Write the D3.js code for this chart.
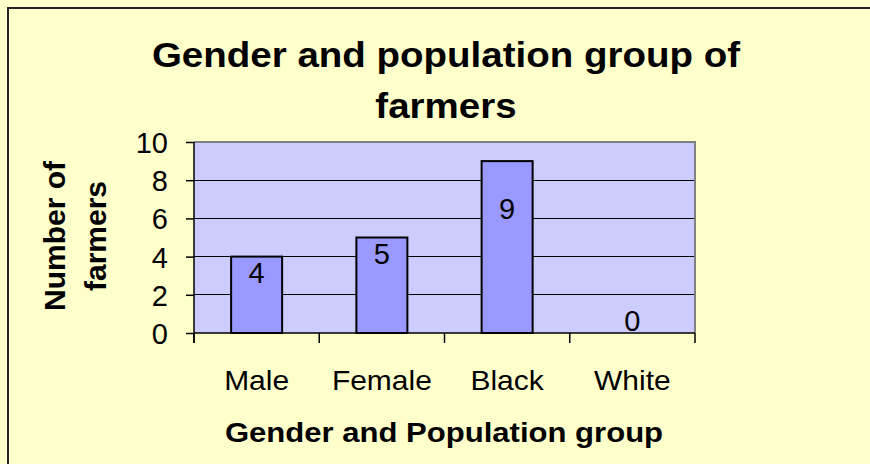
<!DOCTYPE html>
<html>
<head>
<meta charset="utf-8">
<script src="https://cdn.jsdelivr.net/npm/d3@7"></script>
<style>
  html, body { margin: 0; padding: 0; background: #FFFFCC; }
  svg { display: block; }
  text { font-family: "Liberation Sans", Arial, sans-serif; fill: #000; }
</style>
</head>
<body>
<script>
const categories = ["Male", "Female", "Black", "White"];
const values = [4, 5, 9, 0];
const yTicks = [0, 2, 4, 6, 8, 10];
const titleLines = ["Gender and population group of", "farmers"];
const yTitleLines = ["Number of", "farmers"];
const xTitle = "Gender and Population group";

const W = 870, H = 464;
const plot = { left: 194, right: 695, top: 142, bottom: 333 };
const hStretch = 1.1; // horizontal text stretch seen in the reference

const svg = d3.select("body").append("svg").attr("width", W).attr("height", H);

// helper: stretch horizontal text glyphs a little, like the reference
function stretch(sel, factor) {
  sel.each(function () {
    const w = this.getComputedTextLength();
    d3.select(this).attr("textLength", w * factor).attr("lengthAdjust", "spacingAndGlyphs");
  });
}

// background + frame
svg.append("rect").attr("x", 0).attr("y", 0).attr("width", W).attr("height", H).attr("fill", "#FFFFCC");
svg.append("rect").attr("x", 8).attr("y", 8).attr("width", W + 20).attr("height", H + 20)
  .attr("fill", "#FFFFCC").attr("stroke", "#222").attr("stroke-width", 2);

const x = d3.scaleBand().domain(categories).range([plot.left, plot.right]).paddingInner(0).paddingOuter(0);
const y = d3.scaleLinear().domain([0, 10]).range([plot.bottom, plot.top]);

// plot area
svg.append("rect").attr("x", plot.left).attr("y", plot.top)
  .attr("width", plot.right - plot.left).attr("height", plot.bottom - plot.top)
  .attr("fill", "#CCCCFF");

// gridlines
svg.append("g").selectAll("line").data(yTicks.filter(d => d > 0 && d < 10)).join("line")
  .attr("x1", plot.left).attr("x2", plot.right)
  .attr("y1", d => y(d)).attr("y2", d => y(d))
  .attr("stroke", "#000").attr("stroke-width", 1).attr("shape-rendering", "crispEdges");

// plot border top/right
svg.append("path")
  .attr("d", `M${plot.left},${plot.top}H${plot.right}V${plot.bottom}`)
  .attr("fill", "none").attr("stroke", "#808080").attr("stroke-width", 2);

// bars
const barW = 51;
svg.append("g").selectAll("rect").data(categories.map((c, i) => ({ c, v: values[i] }))).join("rect")
  .filter(d => d.v > 0)
  .attr("x", d => x(d.c) + x.bandwidth() / 2 - barW / 2)
  .attr("y", d => y(d.v))
  .attr("width", barW)
  .attr("height", d => y(0) - y(d.v))
  .attr("fill", "#9999FF").attr("stroke", "#000").attr("stroke-width", 2);

// y axis
const yAxis = d3.axisLeft(y).tickValues(yTicks).tickSize(8).tickPadding(18).tickFormat(d3.format("d"));
const gy = svg.append("g").attr("transform", `translate(${plot.left},0)`).call(yAxis);
gy.select(".domain").remove();
gy.selectAll(".tick line").attr("stroke", "#000").attr("stroke-width", 1.5);
gy.selectAll(".tick text").attr("font-size", 29).attr("font-family", "Liberation Sans, Arial, sans-serif").attr("dy", "0.36em");
svg.append("line").attr("x1", plot.left).attr("x2", plot.left).attr("y1", plot.top).attr("y2", plot.bottom + 10)
  .attr("stroke", "#000").attr("stroke-width", 1.5);

// x axis line + boundary ticks
svg.append("line").attr("x1", plot.left).attr("x2", plot.right).attr("y1", plot.bottom).attr("y2", plot.bottom)
  .attr("stroke", "#000").attr("stroke-width", 1.5);
const bounds = categories.map(c => x(c)).concat([x(categories[categories.length - 1]) + x.bandwidth()]);
svg.append("g").selectAll("line").data(bounds).join("line")
  .attr("x1", d => d).attr("x2", d => d).attr("y1", plot.bottom).attr("y2", plot.bottom + 10)
  .attr("stroke", "#000").attr("stroke-width", 1.5);

// x category labels
svg.append("g").selectAll("text").data(categories).join("text")
  .attr("x", d => x(d) + x.bandwidth() / 2).attr("y", 390)
  .attr("text-anchor", "middle").attr("font-size", 28).text(d => d)
  .call(stretch, 1.07);

// data labels
const labelShift = { Black: 32, White: -28 };
svg.append("g").selectAll("text").data(categories.map((c, i) => ({ c, v: values[i] }))).join("text")
  .attr("x", d => x(d.c) + x.bandwidth() / 2)
  .attr("y", d => y(d.v) + 26 + (labelShift[d.c] || 0))
  .attr("text-anchor", "middle").attr("font-size", 29).text(d => d.v);

// title
svg.append("g").selectAll("text").data(titleLines).join("text")
  .attr("x", 446).attr("y", (d, i) => 67 + i * 51)
  .attr("text-anchor", "middle").attr("font-size", 35).attr("font-weight", "bold").text(d => d)
  .call(stretch, hStretch);

// x title
svg.append("text").attr("x", 444).attr("y", 442).attr("text-anchor", "middle")
  .attr("font-size", 27).attr("font-weight", "bold").text(xTitle)
  .call(stretch, 1.15);

// y title
const yt = svg.append("g").attr("transform", "translate(0,236) rotate(-90)");
yt.selectAll("text").data(yTitleLines).join("text")
  .attr("x", 0).attr("y", (d, i) => 65 + i * 41)
  .attr("text-anchor", "middle").attr("font-size", 30).attr("font-weight", "bold").text(d => d);
</script>
</body>
</html>
